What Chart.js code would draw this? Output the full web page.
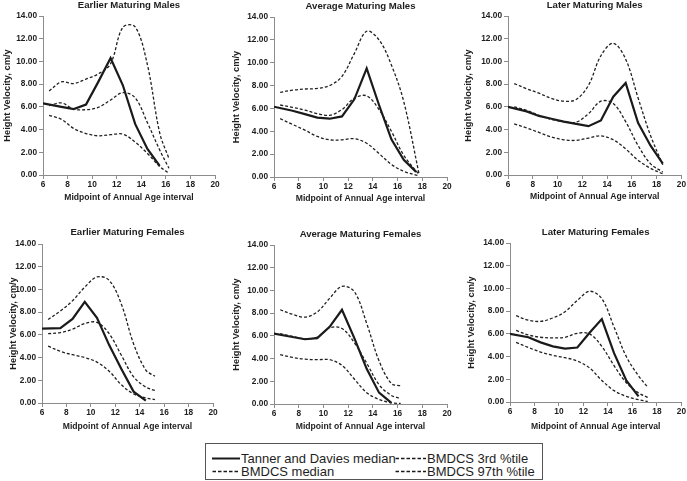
<!DOCTYPE html>
<html><head><meta charset="utf-8">
<script src="https://cdn.jsdelivr.net/npm/chart.js@4"></script>
<style>
html,body{margin:0;padding:0;background:#fff}
body{width:687px;height:481px;overflow:hidden;position:relative;font-family:"Liberation Sans",Arial,sans-serif}
canvas.pc{position:absolute}
#legend{position:absolute;left:205px;top:443px;width:338px;height:37px;box-sizing:border-box;border:1px solid #555;background:#fff}
.li{position:absolute;font-size:13px;color:#1e1e1e;line-height:13px;white-space:nowrap}
.li svg{position:absolute;top:0}
</style>
</head><body>
<canvas class="pc" id="c1"></canvas>
<canvas class="pc" id="c2"></canvas>
<canvas class="pc" id="c3"></canvas>
<canvas class="pc" id="c4"></canvas>
<canvas class="pc" id="c5"></canvas>
<canvas class="pc" id="c6"></canvas>
<div id="legend"></div>
<script>
// ---------- DATA ----------
const xTicks = [6, 8, 10, 12, 14, 16, 18, 20];
const yTicks = [0, 2, 4, 6, 8, 10, 12, 14];

const titles = ['Earlier Maturing Males','Average Maturing Males','Later Maturing Males',
                'Earlier Maturing Females','Average Maturing Females','Later Maturing Females'];
const seriesNames = ['Tanner and Davies median','BMDCS median','BMDCS 3rd %tile','BMDCS 97th %tile'];

// Earlier maturing males
const tdAge1 = [6, 7.5, 8.5, 9.5, 10.5, 11.5, 12.5, 13.5, 14.5, 15.5];
const tdVel1 = [6.3, 6.0, 5.8, 6.2, 8.2, 10.3, 7.9, 4.5, 2.3, 0.8];
const bmAge1 = [6.5, 7.5, 8.5, 9.5, 10.5, 11.5, 12.5, 13.5, 14.5, 15.5, 16.25];
const med1   = [6.1, 6.35, 5.8, 5.75, 5.95, 6.6, 7.25, 6.8, 4.6, 2.2, 0.6];
const p3_1   = [5.25, 4.9, 4.1, 3.65, 3.45, 3.55, 3.6, 2.9, 1.9, 0.75, 0.15];
const p97_1  = [7.4, 8.2, 8.05, 8.45, 8.9, 9.8, 13.0, 13.05, 9.7, 3.7, 1.45];

// Average maturing males
const tdAge2 = [6, 7.5, 8.5, 9.5, 10.5, 11.5, 12.5, 13.5, 14.5, 15.5, 16.5, 17.5];
const tdVel2 = [6.15, 5.8, 5.5, 5.2, 5.1, 5.3, 6.8, 9.5, 6.3, 3.3, 1.5, 0.45];
const bmAge2 = [6.5, 7.5, 8.5, 9.5, 10.5, 11.5, 12.5, 13.5, 14.5, 15.5, 16.5, 17.75];
const med2   = [6.3, 6.1, 5.85, 5.55, 5.4, 5.9, 6.9, 7.1, 5.9, 4.0, 1.9, 0.2];
const p3_2   = [5.1, 4.6, 4.1, 3.55, 3.25, 3.25, 3.35, 2.95, 2.05, 1.1, 0.5, 0.1];
const p97_2  = [7.4, 7.6, 7.7, 7.75, 8.0, 8.8, 10.8, 12.75, 12.0, 9.8, 6.6, 0.2];

// Later maturing males
const tdAge3 = [6, 7.5, 8.5, 9.5, 10.5, 11.5, 12.5, 13.5, 14.5, 15.5, 16.5, 17.5, 18.5];
const tdVel3 = [6.0, 5.6, 5.2, 4.95, 4.7, 4.5, 4.3, 4.8, 6.9, 8.1, 4.6, 2.6, 1.0];
const bmAge3 = [6.5, 7.5, 8.5, 9.5, 10.5, 11.5, 12.5, 13.5, 14.5, 15.5, 16.5, 17.5, 18.5];
const med3   = [6.0, 5.7, 5.25, 4.9, 4.7, 4.65, 5.4, 6.5, 6.3, 4.7, 2.6, 1.0, 0.25];
const p3_3   = [4.5, 4.15, 3.75, 3.35, 3.1, 3.05, 3.25, 3.45, 3.1, 2.3, 1.3, 0.6, 0.1];
const p97_3  = [8.05, 7.6, 7.2, 6.75, 6.5, 6.65, 7.9, 10.5, 11.6, 10.2, 6.8, 3.5, 0.9];

// Earlier maturing females
const tdAge4 = [6, 7.5, 8.5, 9.5, 10.5, 11.5, 12.5, 13.5, 14.5];
const tdVel4 = [6.55, 6.6, 7.4, 8.9, 7.5, 5.1, 3.0, 1.0, 0.2];
const bmAge4 = [6.5, 7.5, 8.5, 9.5, 10.5, 11.5, 12.5, 13.5, 14.5, 15.25];
const med4   = [6.1, 6.2, 6.5, 7.0, 7.1, 6.1, 4.2, 2.3, 1.4, 1.1];
const p3_4   = [5.0, 4.55, 4.25, 4.0, 3.6, 2.8, 1.6, 0.8, 0.45, 0.3];
const p97_4  = [7.35, 8.1, 9.0, 10.2, 11.1, 10.8, 8.7, 5.2, 2.9, 2.35];

// Average maturing females
const tdAge5 = [6, 7.5, 8.5, 9.5, 10.5, 11.5, 12.5, 13.5, 14.5, 15.5];
const tdVel5 = [6.2, 5.9, 5.7, 5.8, 6.8, 8.3, 5.8, 3.1, 1.0, 0.1];
const bmAge5 = [6.5, 7.5, 8.5, 9.5, 10.5, 11.5, 12.5, 13.5, 14.5, 15.5, 16.25];
const med5   = [6.2, 5.95, 5.75, 5.9, 6.7, 6.65, 5.4, 3.6, 1.7, 0.75, 0.5];
const p3_5   = [4.35, 4.1, 3.95, 3.9, 3.9, 3.4, 2.2, 1.0, 0.4, 0.1, 0.05];
const p97_5  = [8.3, 7.9, 7.65, 8.1, 9.3, 10.35, 9.9, 7.1, 3.8, 1.8, 1.6];

// Later maturing females
const tdAge6 = [6, 7.5, 8.5, 9.5, 10.5, 11.5, 12.5, 13.5, 14.5, 15.5, 16.5];
const tdVel6 = [6.0, 5.7, 5.25, 4.9, 4.7, 4.8, 6.1, 7.3, 4.3, 1.9, 0.5];
const bmAge6 = [6.5, 7.5, 8.5, 9.5, 10.5, 11.5, 12.5, 13.5, 14.5, 15.5, 16.5, 17.25];
const med6   = [6.3, 5.9, 5.7, 5.65, 5.7, 6.05, 6.0, 4.9, 3.2, 1.7, 0.8, 0.4];
const p3_6   = [5.25, 4.8, 4.4, 4.1, 3.9, 3.6, 3.0, 1.9, 1.0, 0.5, 0.2, 0.05];
const p97_6  = [7.6, 7.2, 7.1, 7.4, 7.95, 8.95, 9.75, 9.1, 6.6, 4.0, 2.3, 1.3];

// ---------- LAYOUT ----------
const FONT = '"Liberation Sans", Arial, sans-serif';
const TXT = '#1e1e1e';
const AX = '#8c8c8c';
const TITLE_FS = 9.6, YT_FS = 9.3, XT_FS = 8.6, TICK_FS = 8.3;

const panels = [
  {id:'c1', cx:0,   cy:0,   cw:229, plot:[43,16,215,175],  xTitleY:197.5, yTitleX:7,   td:[tdAge1,tdVel1], bm:[bmAge1,med1,p3_1,p97_1]},
  {id:'c2', cx:229, cy:1,   cw:229, plot:[274,17,447,177], xTitleY:198.5, yTitleX:236.5, td:[tdAge2,tdVel2], bm:[bmAge2,med2,p3_2,p97_2]},
  {id:'c3', cx:458, cy:0,   cw:229, plot:[508,16,682,175], xTitleY:197,   yTitleX:468, td:[tdAge3,tdVel3], bm:[bmAge3,med3,p3_3,p97_3]},
  {id:'c4', cx:0,   cy:227, cw:229, plot:[42,244,213,403], xTitleY:426.5, yTitleX:13,  td:[tdAge4,tdVel4], bm:[bmAge4,med4,p3_4,p97_4]},
  {id:'c5', cx:229, cy:229, cw:229, plot:[274,245,447,404],xTitleY:426.5, yTitleX:236, td:[tdAge5,tdVel5], bm:[bmAge5,med5,p3_5,p97_5]},
  {id:'c6', cx:458, cy:227, cw:229, plot:[510,243,682,402],xTitleY:426.5, yTitleX:471, td:[tdAge6,tdVel6], bm:[bmAge6,med6,p3_6,p97_6]}
];

function pts(xs, ys){ return xs.map((x,i)=>({x:x, y:ys[i]})); }

panels.forEach((p, k) => {
  const [pl, pt, pr, pb] = p.plot;
  const ch = Math.round(p.xTitleY + XT_FS*1.2/2 - p.cy);
  const cv = document.getElementById(p.id);
  cv.width = p.cw; cv.height = ch;
  cv.style.left = p.cx + 'px'; cv.style.top = p.cy + 'px';
  cv.style.width = p.cw + 'px'; cv.style.height = ch + 'px';

  const dashed = {borderColor:'#202020', borderWidth:1.3, borderDash:[3,2], tension:0.35, pointRadius:0, fill:false};
  const datasets = [
    Object.assign({label:seriesNames[1], data:pts(p.bm[0], p.bm[1])}, dashed),
    Object.assign({label:seriesNames[2], data:pts(p.bm[0], p.bm[2])}, dashed),
    Object.assign({label:seriesNames[3], data:pts(p.bm[0], p.bm[3])}, dashed),
    {label:seriesNames[0], data:pts(p.td[0], p.td[1]), borderColor:'#1a1a1a', borderWidth:2.2, tension:0, pointRadius:0, fill:false}
  ];

  const tickFont = {family:FONT, size:TICK_FS, weight:'bold'};
  new Chart(cv, {
    type:'line',
    data:{datasets},
    options:{
      responsive:false, animation:false, devicePixelRatio:1,
      layout:{padding:{left:0, top:0, right:p.cx + p.cw - pr, bottom:0}},
      plugins:{
        legend:{display:false}, tooltip:{enabled:false},
        title:{display:true, text:titles[k], fullSize:false, color:TXT,
               font:{family:FONT, size:TITLE_FS, weight:'bold', lineHeight:1.2},
               padding:{top:0, bottom:(pt - p.cy) - TITLE_FS*1.2}}
      },
      scales:{
        x:{type:'linear', min:xTicks[0], max:xTicks[xTicks.length-1],
           afterFit:(s)=>{ s.height = p.cy + ch - pb; },
           afterBuildTicks:(s)=>{ s.ticks = xTicks.map(v=>({value:v})); },
           ticks:{font:tickFont, color:TXT, padding:1, maxRotation:0, autoSkip:false},
           grid:{display:true, drawOnChartArea:false, drawTicks:true, tickLength:4, color:AX, lineWidth:1},
           border:{display:true, color:AX, width:1},
           title:{display:true, text:'Midpoint of Annual Age interval', color:TXT,
                  font:{family:FONT, size:XT_FS, weight:'bold', lineHeight:1.2}, padding:{top:0, bottom:0}}},
        y:{min:yTicks[0], max:yTicks[yTicks.length-1],
           afterFit:(s)=>{ s.width = pl - p.cx; },
           afterBuildTicks:(s)=>{ s.ticks = yTicks.map(v=>({value:v})); },
           ticks:{font:tickFont, color:TXT, padding:2, callback:(v)=>Number(v).toFixed(2)},
           grid:{display:true, drawOnChartArea:false, drawTicks:true, tickLength:4, color:AX, lineWidth:1},
           border:{display:true, color:AX, width:1},
           title:{display:true, text:'Height Velocity, cm/y', color:TXT,
                  font:{family:FONT, size:YT_FS, weight:'bold', lineHeight:1.2},
                  padding:{top:Math.max(0, p.yTitleX - p.cx - YT_FS*0.6), bottom:0}}}
      }
    }
  });
});

// ---------- LEGEND (HTML) ----------
const legendItems = [
  {name:seriesNames[0], solid:true,  x:6,   y:8,  tx:35},
  {name:seriesNames[1], solid:false, x:6,   y:21, tx:35},
  {name:seriesNames[2], solid:false, x:189, y:8,  tx:221},
  {name:seriesNames[3], solid:false, x:189, y:21, tx:221}
];
const lg = document.getElementById('legend');
legendItems.forEach(it => {
  const d = document.createElement('div');
  d.className = 'li';
  d.style.left = it.x + 'px'; d.style.top = it.y + 'px';
  const w = it.tx - it.x - 1;
  const line = it.solid
    ? `<line x1="0" y1="6.5" x2="${w}" y2="6.5" stroke="#1a1a1a" stroke-width="2"/>`
    : `<line x1="0.5" y1="6.5" x2="${w}" y2="6.5" stroke="#1a1a1a" stroke-width="1.3" stroke-dasharray="3.5,2"/>`;
  d.innerHTML = `<svg width="${w}" height="13" style="left:0">${line}</svg><span style="position:absolute;left:${it.tx - it.x}px;top:0">${it.name}</span>`;
  lg.appendChild(d);
});
</script>
</body></html>
